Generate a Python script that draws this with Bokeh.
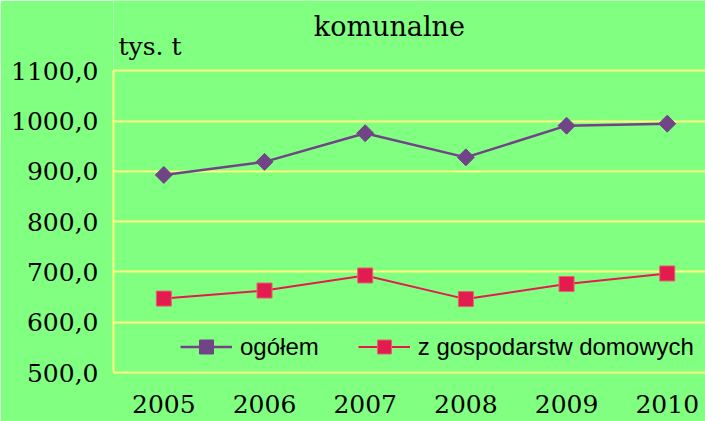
import numpy as np
from bokeh.plotting import figure
from bokeh.models import Range1d, FixedTicker, Legend, LegendItem, Label
from bokeh.embed import file_html
from bokeh.resources import INLINE

years = [2005, 2006, 2007, 2008, 2009, 2010]
ogolem = [893, 919, 976, 928, 991, 995]
domowe = [647, 663, 693, 646, 676, 697]
y_ticks = [500, 600, 700, 800, 900, 1000, 1100]
y_tick_labels = {t: f"{t},0" for t in y_ticks}
series_names = ["ogółem", "z gospodarstw domowych"]
title_text = "komunalne"
unit_text = "tys. t"

BG = "#80FF80"
GRID = "#FFFF80"
PURPLE = "#714488"
RED = "#E41B4E"

p = figure(width=705, height=421, output_backend="svg", toolbar_location=None, title=None,
           x_range=Range1d(2004.5, 2010.38), y_range=Range1d(500, 1240),
           min_border_left=113, min_border_right=0, min_border_top=0, min_border_bottom=49)
p.background_fill_color = BG
p.border_fill_color = BG
p.outline_line_color = None

p.xgrid.grid_line_color = None
p.ygrid.grid_line_color = GRID
p.ygrid.grid_line_width = 2
p.ygrid.ticker = FixedTicker(ticks=y_ticks)

p.yaxis.ticker = FixedTicker(ticks=y_ticks)
p.yaxis.bounds = (y_ticks[0], y_ticks[-1])
p.yaxis.major_label_overrides = y_tick_labels
p.xaxis.ticker = FixedTicker(ticks=years)
for ax in (p.xaxis, p.yaxis):
    ax.axis_line_color = GRID
    ax.axis_line_width = 2
    ax.major_tick_line_color = None
    ax.minor_tick_line_color = None
    ax.major_tick_out = 0
    ax.major_tick_in = 0
    ax.major_label_text_font = "DejaVu Serif"
    ax.major_label_text_color = "black"
p.yaxis.major_label_text_font_size = "25px"
p.xaxis.major_label_text_font_size = "25px"
p.yaxis.major_label_standoff = 15
p.xaxis.major_label_standoff = 22

l1 = p.line(years, ogolem, line_color=PURPLE, line_width=2.5)
s1 = p.scatter(years, ogolem, marker="square", angle=np.pi / 4, size=12,
               fill_color=PURPLE, line_color=PURPLE)
l2 = p.line(years, domowe, line_color=RED, line_width=2)
s2 = p.scatter(years, domowe, marker="square", size=15,
               fill_color=RED, line_color="#E86070", line_width=1)

legend = Legend(items=[LegendItem(label=series_names[0], renderers=[l1, s1]),
                       LegendItem(label=series_names[1], renderers=[l2, s2])],
                orientation="horizontal", location=(67, 8),
                glyph_width=52, glyph_height=35, label_height=20,
                label_standoff=8, spacing=39, padding=0, margin=0,
                border_line_alpha=0, background_fill_alpha=0,
                label_text_font="Liberation Sans", label_text_font_size="24px",
                label_text_color="black")
p.add_layout(legend)

p.add_layout(Label(x=2007.24, y=1188, text=title_text, text_align="center",
                   text_baseline="alphabetic", text_font="DejaVu Serif",
                   text_font_size="27px", text_color="black"))
p.add_layout(Label(x=2004.55, y=1148, text=unit_text, text_align="left",
                   text_baseline="alphabetic", text_font="DejaVu Serif",
                   text_font_size="25px", text_color="black"))

open("out.html", "w").write(file_html(p, INLINE))
